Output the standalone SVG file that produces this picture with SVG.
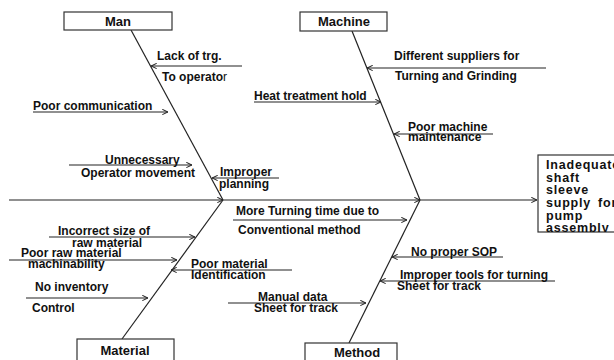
<svg xmlns="http://www.w3.org/2000/svg" width="614" height="360" viewBox="0 0 614 360">
<defs>
<marker id="ah" viewBox="0 0 8 8" refX="7.5" refY="4" markerWidth="7" markerHeight="7" markerUnits="userSpaceOnUse" orient="auto">
<path d="M1,1 L7.5,4 L1,7" fill="none" stroke="#222" stroke-width="1.2"/>
</marker>
<clipPath id="effclip"><rect x="538" y="155" width="80" height="77"/></clipPath>
<style>
.box{fill:#fff;stroke:#333;stroke-width:1.2}
.t{font-family:"Liberation Sans",Arial,sans-serif;font-weight:bold;font-size:12px;fill:#111}
.h{font-family:"Liberation Sans",Arial,sans-serif;font-weight:bold;font-size:13px;fill:#111;text-anchor:middle}
.e{font-family:"Liberation Sans",Arial,sans-serif;font-weight:bold;font-size:12.5px;fill:#111;letter-spacing:0.8px}
.ln{stroke:#222;stroke-width:1.2;fill:none}
.ar{stroke:#222;stroke-width:1.2;fill:none;marker-end:url(#ah)}
</style>
</defs>
<rect width="614" height="360" fill="#fff"/>

<g id="connectors">
<line class="ln" x1="131" y1="30" x2="223" y2="200"/>
<line class="ln" x1="352" y1="31" x2="420" y2="200"/>
<line class="ln" x1="122" y1="339" x2="223" y2="200"/>
<line class="ln" x1="349" y1="343" x2="420" y2="200"/>
<line class="ar" x1="9" y1="200" x2="223" y2="200"/>
<line class="ar" x1="223" y1="200" x2="420" y2="200"/>
<line class="ar" x1="420" y1="200" x2="537" y2="200"/>
<line class="ar" x1="242" y1="66" x2="151" y2="66"/>
<line class="ar" x1="33" y1="112" x2="168" y2="112"/>
<line class="ar" x1="69" y1="165" x2="192" y2="165"/>
<line class="ar" x1="279" y1="178" x2="212" y2="178"/>
<line class="ar" x1="546" y1="68" x2="367" y2="68"/>
<line class="ar" x1="254" y1="102" x2="381" y2="102"/>
<line class="ar" x1="493" y1="134" x2="394" y2="134"/>
<line class="ar" x1="233" y1="220" x2="407" y2="220"/>
<line class="ar" x1="503" y1="257" x2="392" y2="257"/>
<line class="ar" x1="555" y1="281" x2="380" y2="281"/>
<line class="ar" x1="228" y1="303" x2="366" y2="303"/>
<line class="ar" x1="49" y1="237" x2="195" y2="237"/>
<line class="ar" x1="9" y1="260" x2="177" y2="260"/>
<line class="ar" x1="292" y1="270" x2="171" y2="270"/>
<line class="ar" x1="26" y1="298" x2="148" y2="298"/>
</g>

<g id="man"><rect class="box" x="64" y="12" width="108" height="18"/><text class="h" x="118" y="26">Man</text></g>
<g id="machine"><rect class="box" x="300" y="12" width="87" height="19"/><text class="h" x="344" y="26">Machine</text></g>
<g id="material"><rect class="box" x="77" y="339" width="97" height="30"/><text class="h" x="125" y="355">Material</text></g>
<g id="method"><rect class="box" x="305" y="343" width="92" height="30"/><text class="h" x="357" y="357">Method</text></g>
<g id="effect">
<rect class="box" x="538" y="155" width="100" height="77"/>
<g clip-path="url(#effclip)">
<text class="e" x="546" y="169">Inadequate</text>
<text class="e" x="546" y="182">shaft</text>
<text class="e" x="546" y="194">sleeve</text>
<text class="e" x="546" y="207"><tspan>supply</tspan><tspan x="598">for</tspan></text>
<text class="e" x="546" y="220">pump</text>
<text class="e" x="546" y="232">assembly</text>
</g>
</g>

<g id="cause-lack-trg"><text class="t" x="157" y="60">Lack of trg.</text><text class="t" x="162" y="81">To operato<tspan font-weight="normal">r</tspan></text></g>
<g id="cause-poor-communication"><text class="t" x="33" y="110">Poor communication</text></g>
<g id="cause-unnecessary-movement"><text class="t" x="105" y="164">Unnecessary</text><text class="t" x="81" y="177">Operator movement</text></g>
<g id="cause-improper-planning"><text class="t" x="220" y="176">Improper</text><text class="t" x="219" y="188">planning</text></g>
<g id="cause-different-suppliers"><text class="t" x="394" y="60">Different suppliers for</text><text class="t" x="395" y="80">Turning and Grinding</text></g>
<g id="cause-heat-treatment"><text class="t" x="254" y="100">Heat treatment hold</text></g>
<g id="cause-poor-maintenance"><text class="t" x="408" y="131">Poor machine</text><text class="t" x="408" y="141">maintenance</text></g>
<g id="cause-more-turning"><text class="t" x="236" y="215">More Turning time due to</text><text class="t" x="238" y="234">Conventional method</text></g>
<g id="cause-no-sop"><text class="t" x="411" y="256">No proper SOP</text></g>
<g id="cause-improper-tools"><text class="t" x="400" y="279">Improper tools for turning</text><text class="t" x="397" y="290">Sheet for track</text></g>
<g id="cause-manual-data"><text class="t" x="258" y="301">Manual data</text><text class="t" x="254" y="312">Sheet for track</text></g>
<g id="cause-incorrect-size"><text class="t" x="58" y="235">Incorrect size of</text><text class="t" x="72" y="247">raw material</text></g>
<g id="cause-poor-raw-material"><text class="t" x="21" y="257">Poor raw material</text><text class="t" x="28" y="268">machinability</text></g>
<g id="cause-poor-identification"><text class="t" x="191" y="268">Poor material</text><text class="t" x="191" y="279">Identification</text></g>
<g id="cause-no-inventory"><text class="t" x="35" y="291">No inventory</text><text class="t" x="32" y="312">Control</text></g>
</svg>
